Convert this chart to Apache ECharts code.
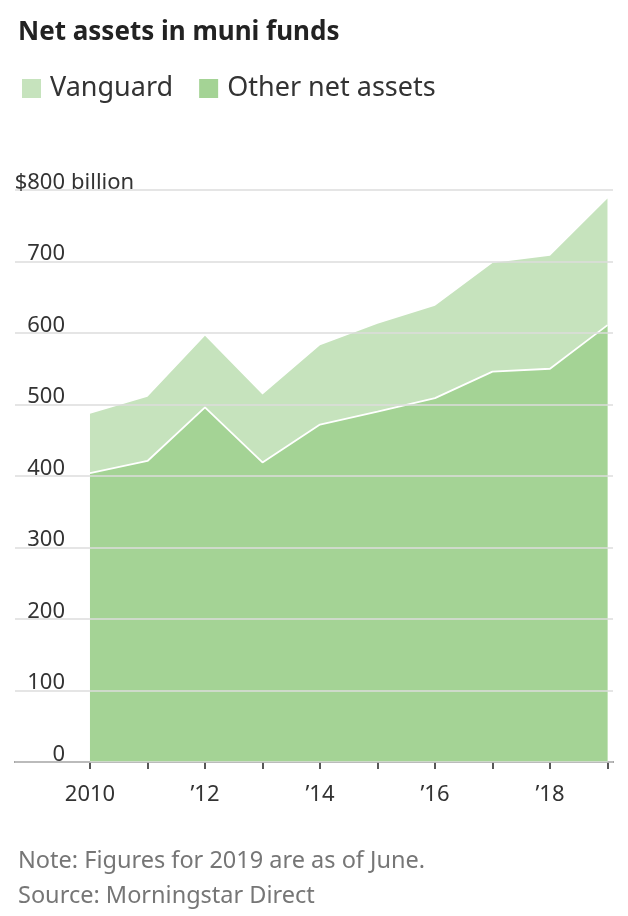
<!DOCTYPE html>
<html lang="en" style="height: 100%">
<head>
  <meta charset="utf-8">
</head>
<body style="height: 100%; margin: 0; background: #fff">
  <div id="container" style="height: 100%"></div>

  <script type="text/javascript" src="https://fastly.jsdelivr.net/npm/echarts@6/dist/echarts.min.js"></script>
  <script type="text/javascript">
    // values in $ billion
    var years = [2010, 2011, 2012, 2013, 2014, 2015, 2016, 2017, 2018, 2019];
    var otherAssets = [404, 421, 496, 419, 472, 490, 509, 546, 550, 611];
    var vanguard = [83, 90, 100, 95, 111, 123, 129, 152, 158, 177];
    var yearLabels = [2010, 2012, 2014, 2016, 2018];

    var sans = "'Noto Sans', 'Open Sans', sans-serif";

    var dom = document.getElementById('container');
    var myChart = echarts.init(dom, null, { renderer: 'canvas' });

    // Vanguard sits on top of the other assets: draw the total behind
    var otherPts = years.map(function (y, i) { return [y, otherAssets[i]]; });
    var totalPts = years.map(function (y, i) { return [y, otherAssets[i] + vanguard[i]]; });

    var option = {
      animation: false,
      title: [
        {
          text: 'Net assets in muni funds',
          left: 13, top: 15,
          textStyle: { fontFamily: sans, fontSize: 26, fontWeight: 'bold', color: '#222' }
        },
        {
          text: 'Note: Figures for 2019 are as of June.',
          left: 13, top: 844,
          textStyle: { fontFamily: sans, fontSize: 23.5, fontWeight: 'normal', color: '#767676' }
        },
        {
          text: 'Source: Morningstar Direct',
          left: 13, top: 879,
          textStyle: { fontFamily: sans, fontSize: 23.5, fontWeight: 'normal', color: '#767676' }
        }
      ],
      legend: {
        left: 17, top: 70,
        icon: 'rect',
        itemWidth: 19, itemHeight: 19, itemGap: 26,
        data: ['Vanguard', 'Other net assets'],
        textStyle: { fontFamily: sans, fontSize: 27, color: '#333', padding: [0, 0, 0, 4] }
      },
      grid: { left: 15, right: 15, top: 190, bottom: 154 },
      xAxis: {
        type: 'value',
        min: 2008.696,
        max: 2019.096,
        splitLine: { show: false },
        axisLine: { show: true, lineStyle: { color: '#222', width: 1.5 } },
        axisTick: {
          show: true, length: 7, customValues: years,
          lineStyle: { color: '#222', width: 1.5 }
        },
        axisLabel: {
          customValues: yearLabels,
          margin: 22,
          fontFamily: sans, fontSize: 22, color: '#333',
          formatter: function (v) {
            return v === 2010 ? '2010' : '\u2019' + String(v).slice(2);
          }
        }
      },
      yAxis: {
        type: 'value',
        min: 0, max: 800, interval: 100,
        z: 5,
        name: 'billion',
        nameLocation: 'end',
        nameGap: 0,
        nameMoveOverlap: false,
        nameTextStyle: {
          fontFamily: sans, fontSize: 22, color: '#333', lineHeight: 15,
          align: 'left', verticalAlign: 'bottom', padding: [0, 0, 0, 56]
        },
        axisLine: { show: false },
        axisTick: { show: false },
        splitLine: { lineStyle: { color: '#dddddd', width: 1.5 } },
        axisLabel: {
          inside: true,
          margin: 50,
          align: 'right',
          verticalAlign: 'bottom',
          lineHeight: 15,
          fontFamily: sans, fontSize: 22, color: '#333',
          formatter: function (v) { return v === 800 ? '$800' : String(v); }
        }
      },
      series: [
        {
          name: 'Vanguard',
          type: 'line',
          data: totalPts,
          showSymbol: false,
          itemStyle: { color: '#c6e3bd' },
          lineStyle: { width: 0 },
          areaStyle: { color: '#c6e3bd', opacity: 1 },
          z: 2
        },
        {
          name: 'Other net assets',
          type: 'line',
          data: otherPts,
          showSymbol: false,
          itemStyle: { color: '#a4d395' },
          lineStyle: { color: '#ffffff', width: 1.8 },
          areaStyle: { color: '#a4d395', opacity: 1 },
          z: 3
        }
      ]
    };

    myChart.setOption(option);
    window.addEventListener('resize', myChart.resize);
  </script>
</body>
</html>
